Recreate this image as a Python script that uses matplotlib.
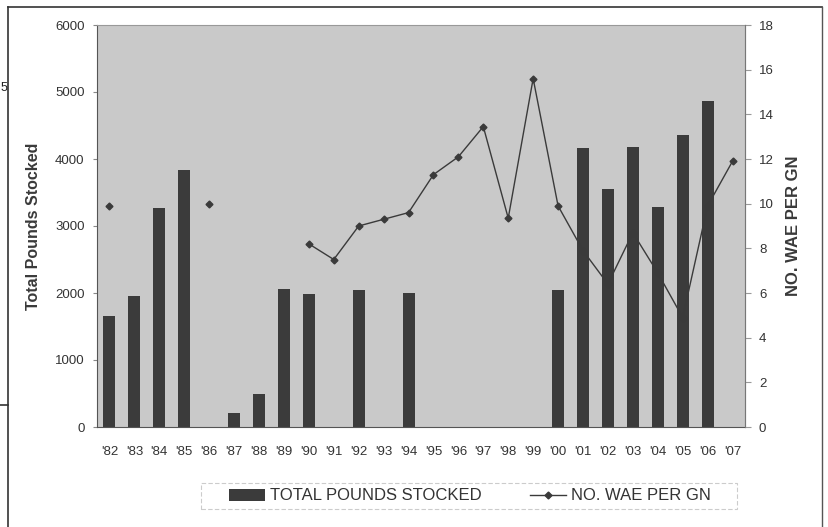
import matplotlib
matplotlib.use("Agg")
import matplotlib.pyplot as plt
import numpy as np
from matplotlib.lines import Line2D
from matplotlib.patches import Patch, Rectangle

plt.rcParams['font.family'] = ['Liberation Sans', 'DejaVu Sans']

years = ["'82", "'83", "'84", "'85", "'86", "'87", "'88", "'89", "'90", "'91",
         "'92", "'93", "'94", "'95", "'96", "'97", "'98", "'99", "'00", "'01",
         "'02", "'03", "'04", "'05", "'06", "'07"]
pounds = [1650, 1955, 3270, 3830, 0, 210, 490, 2060, 1985, 0,
          2045, 0, 2005, 0, 0, 0, 0, 0, 2045, 4165,
          3550, 4180, 3285, 4360, 4865, 0]
wae = [9.9, np.nan, np.nan, np.nan, 10.0, np.nan, np.nan, np.nan, 8.2, 7.5,
       9.0, 9.3, 9.6, 11.3, 12.1, 13.45, 9.35, 15.6, 9.9, 7.9,
       6.4, 8.7, 6.9, 4.9, 9.9, 11.9]

fig = plt.figure(figsize=(8.29, 5.27), dpi=100)
ax = fig.add_axes([97/829, 1-427/527, (745-97)/829, (427-25)/527])
ax.set_facecolor('#c9c9c9')
x = np.arange(len(years))
ax.bar(x, pounds, width=0.48, color='#3b3b3b', zorder=2)
ax.set_xlim(-0.5, len(years)-0.5)
ax.set_ylim(0, 6000)
ax.set_yticks(range(0, 6001, 1000))
ax.set_xticks(x)
ax.set_xticklabels(years, fontsize=9.5, color='#333333')
ax.tick_params(axis='x', length=0, pad=14)
ax.tick_params(axis='y', labelsize=9.5, labelcolor='#333333', length=3, color='#888888', pad=6)
ax.set_ylabel('Total Pounds Stocked', fontsize=11.5, fontweight='bold', color='#3a3a3a', labelpad=10)
for s in ['top', 'right']:
    ax.spines[s].set_color('#999999')
    ax.spines[s].set_linewidth(0.8)
ax.spines['left'].set_color('#555555')
ax.spines['bottom'].set_color('#555555')

ax2 = ax.twinx()
ax2.plot(x, wae, color='#3a3a3a', lw=1.0, marker='D', ms=3.5, zorder=3)
ax2.set_ylim(0, 18)
ax2.set_yticks(range(0, 19, 2))
ax2.tick_params(axis='y', labelsize=9.5, labelcolor='#333333', length=4, color='#999999', pad=6)
ax2.set_ylabel('NO. WAE PER GN', fontsize=12, fontweight='bold', color='#3a3a3a',
               rotation=90, labelpad=9)
ax2.spines['right'].set_color('#777777')
ax2.spines['top'].set_visible(False)
ax2.spines['left'].set_visible(False)
ax2.spines['bottom'].set_visible(False)

handles = [Patch(facecolor='#3b3b3b', edgecolor='none'),
           Line2D([0], [0], color='#3a3a3a', lw=1.0, marker='D', ms=3.5)]
leg = fig.legend(handles, ['TOTAL POUNDS STOCKED', 'NO. WAE PER GN'],
                 loc='center', bbox_to_anchor=(470/829, 1-496/527), ncol=2,
                 fontsize=12, frameon=False, columnspacing=2.9,
                 handlelength=2.15, borderpad=0.2, borderaxespad=0, handletextpad=0.3)
for t in leg.get_texts():
    t.set_color('#333333')
fig.add_artist(Rectangle((201/829, 1-509/527), (737-201)/829, 26/527,
                         transform=fig.transFigure, fill=False, edgecolor='#cccccc',
                         lw=0.8, linestyle=(0, (4, 2))))

# page frame from the scan
fig.add_artist(Line2D([8/829, 822/829], [1-7/527, 1-7/527], color='#333333', lw=1.2))
fig.add_artist(Line2D([8/829, 8/829], [0, 1-7/527], color='#333333', lw=1.2))
fig.add_artist(Line2D([822/829, 822/829], [0, 1-7/527], color='#555555', lw=1.0))
fig.add_artist(Line2D([0, 8/829], [1-405/527, 1-405/527], color='#333333', lw=1.2))
fig.text(0.5/829, 1-88/527, '5', fontsize=9, color='#222222', va='center', ha='left')

fig.savefig('out.png', dpi=100)
